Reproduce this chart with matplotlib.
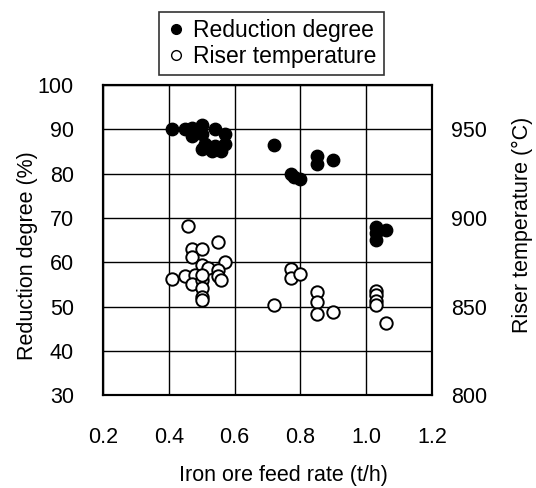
import matplotlib
matplotlib.use('Agg')
from matplotlib import pyplot as plt
from matplotlib.lines import Line2D

plt.rcParams['font.family'] = ['Liberation Sans', 'DejaVu Sans']

# reduction degree (%) vs feed rate
rd_x = [0.41, 0.45, 0.47, 0.50, 0.47, 0.50, 0.54, 0.57, 0.51, 0.50, 0.54, 0.57,
        0.56, 0.53, 0.72, 0.85, 0.85, 0.90, 0.77, 0.80, 0.78, 1.03, 1.06, 1.03, 1.03]
rd_y = [90, 90, 90.3, 91, 88.5, 88.9, 90, 89, 86.6, 85.5, 86.3, 86.6,
        85, 85, 86.4, 84, 82.2, 83, 80, 78.8, 79.2, 68, 67.3, 65, 66.5]

# riser temperature (deg C) vs feed rate
rt_x = [0.46, 0.55, 0.47, 0.50, 0.47, 0.57, 0.41, 0.45, 0.50, 0.52, 0.48, 0.47,
        0.50, 0.55, 0.55, 0.56, 0.50, 0.50, 0.50, 0.50,
        0.77, 0.77, 0.80, 0.72, 0.85, 0.85, 0.85, 0.90, 1.03, 1.03, 1.03, 1.03, 1.06]
rt_y = [895.5, 886.5, 882.5, 882.5, 878, 875, 865.5, 867, 873.5, 872, 868, 863,
        865, 870.5, 867, 865, 860.5, 855.5, 854, 868,
        871, 866, 868.5, 851, 858, 852.5, 846, 847, 859, 856.5, 853, 851, 841]

fig = plt.figure(figsize=(5.36, 4.88), dpi=100)
ax = fig.add_axes([0.192, 0.19, 0.614, 0.636])
ax2 = ax.twinx()

ax.scatter(rd_x, rd_y, s=80, c='black', edgecolors='black', zorder=3)
ax2.scatter(rt_x, rt_y, s=80, facecolors='white', edgecolors='black',
            linewidths=1.4, zorder=3)

ax.set_xlim(0.2, 1.2)
ax.set_ylim(30, 100)
ax2.set_ylim(800, 975)
ax.set_xticks([0.2, 0.4, 0.6, 0.8, 1.0, 1.2])
ax.set_xticklabels(['0.2', '0.4', '0.6', '0.8', '1.0', '1.2'])
ax.set_yticks(range(30, 101, 10))
ax2.set_yticks([800, 850, 900, 950])

ax.grid(True, color='black', linewidth=1)
ax.set_axisbelow(True)
for a in (ax, ax2):
    for s in a.spines.values():
        s.set_linewidth(1.5)
ax.tick_params(axis='x', length=0, labelsize=15.5, pad=23)
ax.tick_params(axis='y', length=0, labelsize=15.5, pad=21)
ax2.tick_params(axis='y', length=0, labelsize=15.5, pad=14)

ax.set_xlabel('Iron ore feed rate (t/h)', fontsize=15.5)
ax.xaxis.set_label_coords(0.55, -0.225)
ax.set_ylabel('Reduction degree (%)', fontsize=15.5)
ax.yaxis.set_label_coords(-0.198, 0.45)
ax2.set_ylabel('Riser temperature (\u00b0C)', fontsize=15.5)
ax2.yaxis.set_label_coords(1.243, 0.55)

handles = [Line2D([], [], marker='o', ls='none', color='black', markersize=7),
           Line2D([], [], marker='o', ls='none', markerfacecolor='white',
                  markeredgecolor='black', markersize=7)]
leg = fig.legend(handles, ['Reduction degree', 'Riser temperature'],
                 loc='upper center', bbox_to_anchor=(0.506, 0.999),
                 fontsize=16.5, frameon=True, fancybox=False, handletextpad=0.3,
                 handlelength=0.9, borderpad=0.3, labelspacing=0.15)
leg.get_frame().set_edgecolor('black')
leg.get_frame().set_linewidth(1.2)

plt.savefig('out.png')
